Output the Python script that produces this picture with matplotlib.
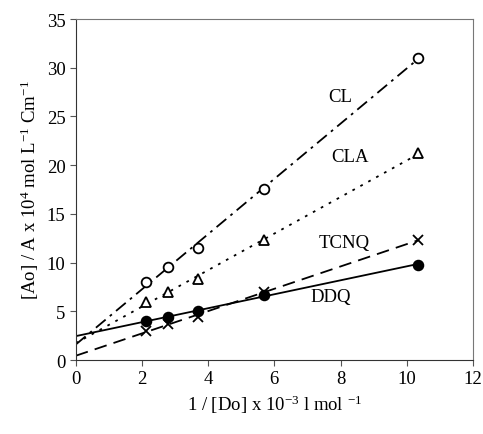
import matplotlib.pyplot as plt
import numpy as np

plt.rcParams['font.family'] = ['Liberation Serif', 'DejaVu Serif']
plt.rcParams['mathtext.fontset'] = 'custom'
plt.rcParams['mathtext.rm'] = 'Liberation Serif'
plt.rcParams['mathtext.it'] = 'Liberation Serif:italic'

x = [2.11, 2.79, 3.70, 5.68, 10.33]
cl = [8.0, 9.6, 11.5, 17.6, 31.0]
cla = [6.0, 7.0, 8.3, 12.3, 21.2]
tcnq = [3.0, 3.7, 4.4, 7.0, 12.3]
ddq = [4.0, 4.4, 5.0, 6.7, 9.8]

series = [
    ("CL", cl, 'o', 'none', (0, (7, 3, 1.5, 3)), (8.0, 27.0)),
    ("CLA", cla, '^', 'none', (0, (1.5, 3.5)), (8.3, 20.9)),
    ("TCNQ", tcnq, 'x', 'k', (0, (7, 4)), (8.1, 12.1)),
    ("DDQ", ddq, 'o', 'k', '-', (7.7, 6.5)),
]

fig = plt.figure(figsize=(4.83, 4.35), dpi=100)
ax = fig.add_axes([0.157, 0.170, 0.822, 0.784])

xfit = np.array([0, max(x)])
for name, y, mk, fc, ls, pos in series:
    k, b = np.polyfit(x, y, 1)
    ax.plot(xfit, k * xfit + b, color='k', linestyle=ls, linewidth=1.3)
    if mk == 'x':
        ax.plot(x, y, linestyle='none', marker='x', color='k', markersize=7, markeredgewidth=1.3)
    else:
        ax.plot(x, y, linestyle='none', marker=mk, markerfacecolor=fc if fc != 'none' else 'white',
                markeredgecolor='k', markersize=7, markeredgewidth=1.3)
    ax.text(pos[0], pos[1], name, fontsize=13.5, ha='center', va='center')

ax.set_xlim(0, 12)
ax.set_ylim(0, 35)
ax.set_xticks(range(0, 13, 2))
ax.set_yticks(range(0, 36, 5))
ax.tick_params(labelsize=13.5, direction='out', length=4, color='#555555')
for s in ax.spines.values():
    s.set_color('#777777')
ax.spines['left'].set_color('#333333')
ax.spines['bottom'].set_color('#333333')

ax.set_xlabel(r"1 / [Do] x 10$^{-3}$ l mol $^{-1}$", fontsize=13.5)
ax.set_ylabel(r"[Ao] / A x 10$^{4}$ mol L$^{-1}$ Cm$^{-1}$", fontsize=13.5)

plt.savefig("out.png", dpi=100)
